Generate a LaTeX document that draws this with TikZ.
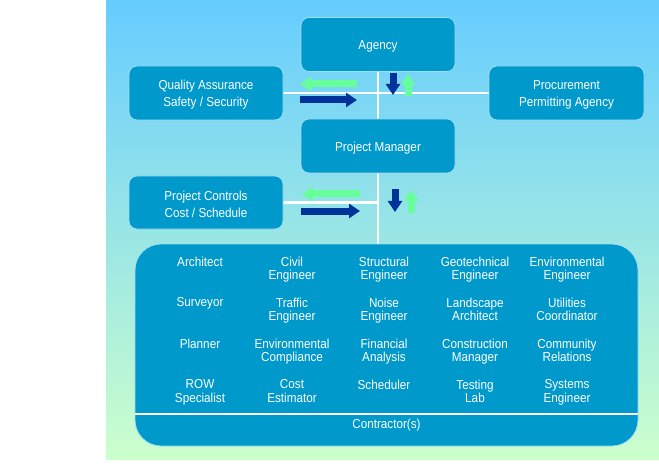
\documentclass[tikz,border=0pt]{standalone}
\usepackage{fontspec}
\setmainfont{Liberation Sans}[FakeStretch=0.9]
\usetikzlibrary{arrows.meta,calc}
\definecolor{boxblue}{RGB}{0,153,204}
\definecolor{skytop}{RGB}{102,204,255}
\definecolor{mintbot}{RGB}{204,255,204}
\definecolor{flowdarkc}{RGB}{0,51,153}
\definecolor{flowgreenc}{RGB}{102,255,153}
\definecolor{edgelight}{RGB}{160,220,245}
\pgfdeclarelayer{back}
\pgfsetlayers{back,main}

\begin{document}
\begin{tikzpicture}[x=1pt,y=-1pt,
  unit/.style={draw=edgelight, line width=0.8pt, fill=boxblue, rounded corners=8pt,
    inner sep=0pt, minimum width=154pt, minimum height=54pt,
    label={[text=white, align=center, inner sep=0pt, yshift=-2pt,
      font=\fontsize{13}{17}\selectfont]center:#1}},
  role/.style={text=white, align=center, anchor=north, inner sep=0pt,
    font=\fontsize{13}{13.5}\selectfont},
  link/.style={white, line width=2.6pt},
  flowdark/.style={flowdarkc, line width=7pt, -{Triangle[width=14pt,length=11pt]}},
  flowgreen/.style={flowgreenc, line width=7pt, -{Triangle[width=14pt,length=11pt]}}]

\useasboundingbox (0,0) rectangle (659,476);

% management boxes
\node[unit={Agency}] (agency) at (378,44.5) {};
\node[unit={Quality Assurance\\Safety / Security}] (qa) at (206,93) {};
\node[unit={Procurement\\Permitting Agency}, minimum width=155pt] (proc) at (566.5,93) {};
\node[unit={Project Manager}] (pm) at (378,146) {};
\node[unit={Project Controls\\Cost / Schedule}, minimum height=53pt] (pc) at (206,202.5) {};

% contractor team panel
\node[unit={}, rounded corners=26pt, minimum width=503pt, minimum height=202pt] (team) at (386.5,345) {};
\draw[white, line width=1.2pt] (team.west |- 0,414) -- (team.east |- 0,414);
\node[role, anchor=center] (contractor) at (386.5,425) {Contractor(s)};

% backdrop and connecting lines
\begin{pgfonlayer}{back}
  \fill[white] (0,0) rectangle (659,476);
  \shade[top color=skytop, bottom color=mintbot] (106,0) rectangle (659,459);
  \draw[link] (agency.south) -- (agency.south |- team.north);
  \draw[link] (qa.east) -- (proc.west);
  \draw[link] (pc.east) -- (pc.east -| agency.south);
\end{pgfonlayer}

% information flow arrows
\draw[flowgreen] (357,84) -- (300,84);
\draw[flowdark] (300,100) -- (357,100);
\draw[flowdark] (393,73) -- (393,95);
\draw[flowgreen] (408,96) -- (408,74);
\draw[flowgreen] (360,194) -- (302,194);
\draw[flowdark] (301,211) -- (360,211);
\draw[flowdark] (395,189) -- (395,212);
\draw[flowgreen] (411,213) -- (411,190);

% disciplines
\foreach \lbl/\cx/\ty [count=\i] in {
  Architect/200/256.5, Civil\\Engineer/292/256.5, Structural\\Engineer/384/256.5,
  Geotechnical\\Engineer/475/256.5, Environmental\\Engineer/567/256.5,
  Surveyor/200/297.5, Traffic\\Engineer/292/297.5, Noise\\Engineer/384/297.5,
  Landscape\\Architect/475/297.5, Utilities\\Coordinator/567/297.5,
  Planner/200/338.5, Environmental\\Compliance/292/338.5, Financial\\Analysis/384/338.5,
  Construction\\Manager/475/338.5, Community\\Relations/567/338.5,
  ROW\\Specialist/200/379.5, Cost\\Estimator/292/379.5, Scheduler/384/379.5,
  Testing\\Lab/475/379.5, Systems\\Engineer/567/379.5}
  \node[role] (role\i) at (\cx,\ty) {\lbl};
\end{tikzpicture}
\end{document}
